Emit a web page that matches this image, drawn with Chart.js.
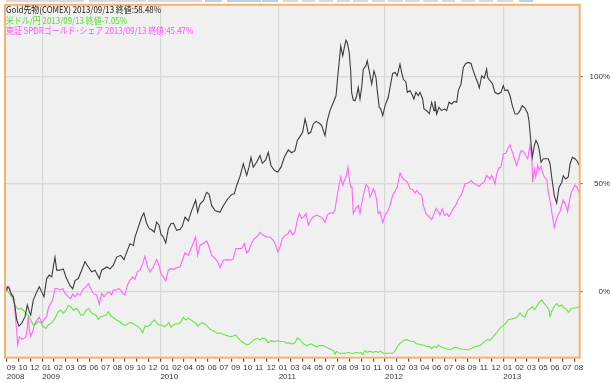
<!DOCTYPE html>
<html>
<head>
<meta charset="utf-8">
<script src="https://cdn.jsdelivr.net/npm/chart.js@4"></script>
<style>
  html, body { margin: 0; padding: 0; background: #fff; }
</style>
</head>
<body>
<canvas id="goldChart" width="610" height="383"></canvas>
<script>
// x = position in month-tick units (tick 0 = 2008/09), y = change in %
const monthLabels = [
    '09', '10', '12',
    '01', '02', '03', '05', '06', '07', '08', '09', '10', '12',
    '01', '02', '04', '05', '06', '07', '09', '10', '11', '12',
    '01', '03', '04', '05', '07', '08', '09', '10', '11',
    '01', '02', '03', '04', '06', '07', '08', '09', '11', '12',
    '01', '02', '03', '05', '06', '07', '08'
];
const yearLabels = ['2008', '2009', '2010', '2011', '2012', '2013'];
const yTicks = [0, 50, 100];

const seriesNames = ['Gold先物(COMEX)', '米ドル/円', '東証 SPDRゴールド･シェア'];
const closeDate = '2013/09/13';
const closeValues = [58.48, -7.05, 45.47];

const gold = [
    [0.0, 0.5], [0.05, 2.2], [0.22, 1.4], [0.42, -1.7], [0.56, -2.5], [0.70, -7.1], [0.85, -13.3], [1.04, -16.1],
    [1.27, -14.8], [1.55, -11.7], [1.74, -6.3], [1.91, -9.4], [2.03, -11.0], [2.25, -4.0], [2.54, -0.2], [2.76, 2.2],
    [2.96, -0.2], [3.15, -2.5], [3.38, 6.0], [3.60, 7.6], [3.81, 6.8], [3.94, 11.4], [4.08, 16.0], [4.23, 9.9],
    [4.51, 9.9], [4.79, 10.5], [5.01, 6.6], [5.35, 2.8], [5.58, 1.2], [5.78, 5.1], [6.05, 6.0], [6.34, 9.9],
    [6.62, 13.8], [6.90, 11.4], [7.19, 9.1], [7.47, 9.9], [7.83, 6.0], [8.03, 9.9], [8.46, 11.4], [8.74, 10.5],
    [9.01, 12.1], [9.30, 16.0], [9.64, 16.8], [9.92, 14.8], [10.15, 18.3], [10.43, 22.2], [10.71, 21.4], [10.85, 25.3],
    [11.13, 29.9], [11.42, 34.6], [11.60, 36.5], [11.84, 31.5], [12.06, 29.2], [12.26, 28.7], [12.48, 27.6], [12.68, 32.3],
    [12.88, 30.8], [13.05, 26.6], [13.24, 25.3], [13.45, 22.6], [13.67, 29.2], [13.89, 31.5], [14.09, 31.8], [14.38, 28.4],
    [14.66, 28.9], [14.85, 30.3], [15.08, 34.6], [15.36, 32.8], [15.64, 37.6], [15.98, 42.5], [16.15, 36.8], [16.35, 40.6],
    [16.63, 42.2], [16.91, 46.1], [17.11, 45.3], [17.34, 39.9], [17.62, 37.6], [18.04, 36.8], [18.32, 39.9], [18.69, 43.0],
    [19.03, 45.1], [19.25, 45.4], [19.45, 49.3], [19.73, 53.5], [20.01, 59.4], [20.30, 54.0], [20.49, 57.8], [20.66, 62.4],
    [20.85, 57.8], [21.14, 60.1], [21.42, 63.2], [21.62, 59.6], [21.90, 61.2], [22.12, 64.7], [22.35, 58.6], [22.63, 56.3],
    [22.92, 55.5], [23.20, 57.8], [23.48, 62.4], [23.81, 65.8], [24.10, 64.5], [24.38, 65.5], [24.58, 70.2], [24.80, 72.0],
    [25.03, 74.0], [25.23, 80.2], [25.37, 77.1], [25.51, 73.3], [25.71, 74.0], [25.93, 77.9], [26.16, 79.1], [26.44, 78.2],
    [26.64, 77.1], [26.78, 74.8], [26.92, 72.5], [27.11, 79.4], [27.34, 84.1], [27.62, 87.9], [27.85, 91.0], [27.99, 99.5],
    [28.13, 107.3], [28.25, 114.2], [28.42, 109.6], [28.55, 113.4], [28.69, 116.8], [28.80, 115.8], [28.97, 111.1], [29.09, 102.6],
    [29.17, 92.6], [29.31, 89.0], [29.45, 88.7], [29.60, 91.0], [29.73, 94.9], [29.88, 89.5], [30.02, 94.9], [30.16, 103.4],
    [30.38, 105.0], [30.49, 107.3], [30.66, 102.6], [30.87, 96.4], [31.06, 102.6], [31.23, 99.5], [31.34, 93.4], [31.51, 85.6],
    [31.63, 84.9], [31.80, 81.8], [32.00, 86.4], [32.27, 90.3], [32.42, 94.9], [32.64, 101.4], [32.84, 101.9], [33.03, 100.3],
    [33.26, 105.7], [33.40, 101.9], [33.54, 98.8], [33.77, 97.3], [33.88, 92.6], [34.11, 93.4], [34.33, 91.0], [34.44, 89.5],
    [34.61, 92.6], [34.81, 91.0], [34.95, 92.6], [35.18, 89.5], [35.29, 84.9], [35.52, 84.1], [35.74, 82.6], [35.94, 88.0],
    [36.14, 84.1], [36.22, 88.5], [36.36, 82.5], [36.56, 85.6], [36.79, 84.1], [37.01, 84.9], [37.21, 84.1], [37.41, 88.0],
    [37.63, 87.2], [37.85, 88.4], [38.06, 88.0], [38.19, 93.4], [38.42, 96.4], [38.62, 104.2], [38.82, 106.0], [39.04, 106.5],
    [39.27, 106.0], [39.46, 102.6], [39.66, 99.5], [39.83, 97.2], [39.97, 94.6], [40.17, 100.3], [40.39, 99.2], [40.59, 103.4],
    [40.68, 99.5], [40.87, 98.0], [41.07, 96.7], [41.29, 92.6], [41.57, 91.8], [41.80, 92.6], [42.00, 95.7], [42.14, 93.4],
    [42.37, 93.7], [42.57, 91.0], [42.76, 86.4], [42.99, 82.5], [43.21, 82.5], [43.41, 84.1], [43.60, 86.4], [43.83, 85.3],
    [44.06, 82.8], [44.17, 79.4], [44.31, 70.9], [44.45, 62.4], [44.62, 67.8], [44.76, 70.2], [44.91, 68.6], [45.02, 66.3],
    [45.19, 60.1], [45.38, 61.7], [45.58, 61.7], [45.80, 61.7], [45.95, 59.4], [46.09, 53.2], [46.31, 44.7], [46.51, 41.1],
    [46.71, 48.4], [46.94, 50.7], [47.07, 53.8], [47.27, 52.3], [47.49, 53.2], [47.65, 59.4], [47.84, 62.4], [48.07, 61.7],
    [48.30, 60.1], [48.45, 58.5]
];

const usdjpy = [
    [0.0, 0.6], [0.22, -0.9], [0.42, -2.5], [0.62, -5.3], [0.79, -7.1], [0.98, -8.3], [1.18, -7.9], [1.40, -8.7],
    [1.63, -10.2], [1.83, -11.4], [2.03, -13.3], [2.25, -15.6], [2.48, -15.1], [2.67, -14.0], [2.88, -14.5], [3.10, -16.4],
    [3.32, -17.2], [3.52, -15.6], [3.81, -14.5], [4.08, -12.5], [4.36, -9.4], [4.57, -8.7], [4.79, -10.2], [5.01, -8.7],
    [5.21, -6.5], [5.41, -7.1], [5.63, -8.7], [5.86, -7.9], [6.05, -8.7], [6.26, -11.0], [6.48, -11.0], [6.71, -8.7],
    [6.90, -7.9], [7.10, -9.4], [7.32, -10.5], [7.55, -11.0], [7.75, -13.0], [7.95, -11.7], [8.17, -11.4], [8.40, -11.0],
    [8.59, -9.4], [8.80, -11.4], [9.01, -12.1], [9.30, -13.3], [9.58, -14.1], [9.86, -15.6], [10.09, -15.6], [10.28, -14.8],
    [10.57, -14.5], [10.85, -15.6], [11.04, -16.1], [11.27, -17.2], [11.50, -19.2], [11.70, -16.0], [11.92, -16.4], [12.12, -15.6],
    [12.31, -14.1], [12.48, -13.3], [12.68, -14.5], [12.88, -15.6], [13.11, -15.6], [13.33, -16.4], [13.53, -15.6], [13.73, -14.5],
    [13.89, -16.7], [14.09, -15.6], [14.29, -15.1], [14.51, -15.1], [14.74, -14.1], [14.93, -12.1], [15.14, -13.3], [15.36, -12.5],
    [15.59, -13.3], [15.78, -14.1], [15.98, -14.5], [16.15, -16.1], [16.35, -15.1], [16.54, -14.5], [16.77, -15.1], [17.00, -16.4],
    [17.19, -17.6], [17.39, -18.2], [17.62, -18.7], [17.84, -19.5], [18.04, -19.2], [18.23, -19.8], [18.46, -20.2], [18.74, -20.7],
    [18.97, -21.0], [19.16, -20.7], [19.37, -20.2], [19.59, -21.8], [19.87, -23.3], [20.09, -24.1], [20.30, -24.9], [20.49, -24.6],
    [20.72, -23.3], [20.94, -22.3], [21.23, -21.8], [21.42, -22.6], [21.62, -21.8], [21.84, -21.8], [22.12, -23.8], [22.35, -22.9],
    [22.63, -23.3], [22.92, -22.9], [23.20, -23.3], [23.48, -23.3], [23.68, -24.1], [23.87, -23.8], [24.10, -24.4], [24.38, -23.9],
    [24.58, -21.6], [24.74, -22.1], [24.95, -23.6], [25.14, -24.4], [25.37, -25.2], [25.59, -24.7], [25.79, -24.4], [25.99, -25.2],
    [26.22, -25.7], [26.50, -25.2], [26.78, -25.2], [27.06, -26.0], [27.34, -26.8], [27.62, -27.5], [27.76, -29.1], [27.91, -27.8],
    [28.13, -28.7], [28.42, -28.7], [28.69, -28.7], [28.89, -28.3], [29.09, -28.7], [29.31, -28.7], [29.54, -28.3], [29.73, -28.7],
    [29.94, -28.3], [30.11, -29.4], [30.30, -27.5], [30.49, -28.3], [30.72, -27.8], [31.00, -28.3], [31.23, -27.8], [31.42, -28.3],
    [31.63, -27.8], [31.85, -28.7], [32.14, -28.7], [32.42, -28.7], [32.64, -28.7], [32.84, -27.8], [33.03, -25.7], [33.26, -24.1],
    [33.54, -22.9], [33.83, -22.3], [34.05, -22.9], [34.25, -23.3], [34.44, -23.3], [34.67, -24.4], [34.89, -24.4], [35.10, -24.9],
    [35.29, -24.9], [35.52, -25.7], [35.74, -25.5], [35.94, -26.6], [36.14, -25.5], [36.36, -26.1], [36.50, -24.9], [36.79, -26.0],
    [37.07, -26.4], [37.35, -26.9], [37.63, -26.9], [37.91, -25.9], [38.19, -26.4], [38.48, -26.9], [38.76, -26.9], [39.04, -27.2],
    [39.32, -26.4], [39.60, -25.7], [39.88, -25.3], [40.11, -24.9], [40.39, -23.3], [40.68, -22.4], [40.87, -22.7], [41.07, -21.6],
    [41.29, -20.1], [41.52, -18.5], [41.72, -17.0], [42.00, -15.9], [42.20, -14.7], [42.42, -13.1], [42.71, -12.8], [42.99, -12.4],
    [43.21, -11.6], [43.41, -10.0], [43.60, -11.3], [43.83, -11.9], [44.06, -8.8], [44.25, -8.2], [44.45, -7.0], [44.62, -8.5],
    [44.82, -7.0], [45.02, -5.1], [45.24, -3.9], [45.47, -5.7], [45.67, -7.0], [45.86, -8.5], [45.95, -11.6], [46.09, -9.3],
    [46.31, -7.0], [46.51, -5.7], [46.71, -7.0], [46.94, -6.3], [47.16, -7.7], [47.36, -8.5], [47.49, -9.7], [47.72, -8.2],
    [47.91, -7.7], [48.12, -7.7], [48.45, -7.05]
];

const spdr = [
    [0.0, 0.5], [0.05, 1.4], [0.19, 2.5], [0.34, -0.9], [0.51, -1.7], [0.62, -4.0], [0.76, -13.3], [0.85, -18.7],
    [0.93, -24.9], [1.07, -21.0], [1.27, -22.3], [1.46, -21.8], [1.63, -21.0], [1.74, -17.2], [1.83, -11.0], [1.91, -17.9],
    [2.03, -21.0], [2.20, -18.5], [2.39, -14.7], [2.59, -13.1], [2.76, -11.9], [2.96, -14.7], [3.15, -13.1], [3.38, -11.6],
    [3.52, -7.7], [3.72, -5.6], [3.89, -4.0], [4.08, 1.4], [4.28, 1.4], [4.51, 0.6], [4.74, 1.4], [4.93, -0.9],
    [5.21, -2.5], [5.41, -3.3], [5.58, -1.2], [5.78, -2.5], [5.97, -0.9], [6.20, -1.7], [6.43, 0.9], [6.71, 2.2],
    [6.90, 3.7], [7.10, 1.4], [7.32, -0.9], [7.61, -1.7], [7.83, -5.9], [8.03, -0.9], [8.23, -2.5], [8.46, -0.9],
    [8.68, -0.2], [8.88, -1.7], [9.01, 0.6], [9.24, 0.6], [9.44, 1.4], [9.64, 0.6], [9.81, -0.9], [10.00, -1.7],
    [10.20, 2.9], [10.43, 5.3], [10.66, 6.8], [10.85, 5.6], [11.04, 9.1], [11.27, 9.9], [11.50, 13.0], [11.69, 16.4],
    [11.92, 11.4], [12.12, 9.1], [12.40, 11.4], [12.68, 14.8], [12.88, 12.1], [13.05, 8.3], [13.24, 6.8], [13.45, 4.9],
    [13.67, 9.9], [13.89, 10.7], [14.09, 10.2], [14.38, 11.1], [14.66, 11.4], [14.85, 14.5], [15.08, 17.9], [15.36, 16.8],
    [15.64, 20.7], [15.98, 25.3], [16.15, 16.8], [16.35, 21.5], [16.63, 22.3], [16.91, 23.5], [17.11, 20.7], [17.34, 16.8],
    [17.62, 15.3], [17.84, 13.8], [18.04, 11.0], [18.32, 14.5], [18.69, 14.8], [18.97, 14.5], [19.16, 15.3], [19.37, 19.9],
    [19.59, 19.9], [19.87, 19.9], [20.09, 22.3], [20.30, 17.9], [20.49, 19.2], [20.72, 22.6], [20.94, 24.6], [21.23, 25.7],
    [21.42, 27.5], [21.70, 26.1], [21.99, 25.3], [22.27, 25.3], [22.55, 23.8], [22.75, 21.5], [22.92, 18.4], [23.11, 20.7],
    [23.31, 24.6], [23.53, 26.1], [23.76, 26.6], [23.95, 28.5], [24.19, 26.3], [24.38, 27.8], [24.58, 33.2], [24.74, 36.3],
    [24.95, 34.0], [25.14, 34.8], [25.31, 36.3], [25.51, 30.9], [25.71, 33.2], [25.93, 34.8], [26.22, 35.5], [26.50, 34.8],
    [26.78, 33.5], [26.92, 32.0], [27.11, 35.5], [27.34, 36.6], [27.62, 36.3], [27.76, 37.9], [27.91, 43.3], [28.13, 50.2],
    [28.25, 53.2], [28.42, 49.3], [28.55, 51.6], [28.69, 53.2], [28.86, 57.8], [28.97, 52.4], [29.09, 48.5], [29.20, 48.5],
    [29.31, 36.2], [29.45, 37.6], [29.60, 39.1], [29.73, 40.0], [29.88, 36.2], [30.02, 40.8], [30.16, 44.7], [30.39, 49.8],
    [30.58, 48.5], [30.72, 43.9], [30.87, 45.4], [31.00, 47.8], [31.15, 46.2], [31.29, 42.3], [31.42, 36.2], [31.57, 37.1],
    [31.80, 32.0], [32.00, 35.5], [32.27, 37.9], [32.47, 41.0], [32.64, 44.8], [32.84, 46.4], [33.03, 48.7], [33.26, 55.0],
    [33.49, 52.5], [33.68, 51.7], [33.88, 50.9], [34.11, 47.8], [34.33, 47.3], [34.53, 45.8], [34.67, 47.0], [34.89, 45.4],
    [35.10, 44.7], [35.23, 40.0], [35.46, 36.2], [35.74, 34.6], [35.94, 33.4], [36.14, 36.2], [36.31, 38.6], [36.50, 37.1],
    [36.64, 35.4], [36.84, 38.5], [37.01, 35.4], [37.21, 36.2], [37.41, 34.9], [37.57, 36.5], [37.77, 38.5], [37.97, 40.0],
    [38.14, 42.3], [38.33, 43.9], [38.53, 46.2], [38.76, 50.1], [39.04, 50.4], [39.27, 51.6], [39.46, 50.4], [39.66, 49.8],
    [39.94, 48.8], [40.17, 50.1], [40.39, 50.9], [40.59, 54.0], [40.73, 53.2], [40.87, 52.0], [41.01, 54.0], [41.15, 52.4],
    [41.29, 49.8], [41.44, 54.7], [41.63, 57.5], [41.80, 57.8], [42.00, 64.0], [42.20, 64.3], [42.37, 66.3], [42.57, 68.3],
    [42.76, 64.8], [42.94, 61.7], [43.13, 58.6], [43.33, 62.4], [43.49, 65.5], [43.69, 65.2], [43.89, 63.2], [44.06, 61.7],
    [44.25, 67.8], [44.40, 62.4], [44.48, 50.8], [44.62, 57.0], [44.74, 53.2], [44.91, 58.6], [45.02, 56.3], [45.19, 58.2],
    [45.30, 55.5], [45.47, 53.2], [45.67, 52.0], [45.80, 46.2], [45.97, 41.6], [46.14, 35.5], [46.31, 29.8], [46.43, 32.1],
    [46.60, 35.5], [46.79, 37.1], [46.94, 40.2], [47.07, 42.5], [47.27, 40.2], [47.44, 37.1], [47.55, 41.0], [47.72, 45.6],
    [47.91, 47.9], [48.06, 49.5], [48.20, 48.7], [48.45, 45.5]
];

const colors = ['#3c3c3c', '#66e646', '#ff66ff'];
const textColors = ['#222222', '#55dd33', '#ff55ff'];

// year label goes under the first tick and under every "01"
const yearAt = {};
let y = 0;
monthLabels.forEach((m, i) => {
    if (i === 0 || m === '01') yearAt[i] = yearLabels[y++];
});

const toPoints = arr => arr.map(([x, v]) => ({ x: x, y: v }));

const frame = {
    id: 'frame',
    beforeDraw(chart) {
        const { ctx, chartArea: a } = chart;
        ctx.save();
        // stubs of the toolbar buttons above the chart
        ctx.fillStyle = '#d9d9d9';
        [[6, 78], [89, 57], [148, 54], [283, 15], [302, 13], [319, 14], [337, 13], [353, 15],
         [372, 13], [388, 15], [405, 15], [423, 15], [442, 13], [461, 14], [479, 14], [497, 16]]
            .forEach(([x, w]) => ctx.fillRect(x, 0, w, 2));
        ctx.fillStyle = '#bcd0e4';
        [[205, 17], [227, 17], [244, 17], [262, 16], [519, 14]]
            .forEach(([x, w]) => ctx.fillRect(x, 0, w, 2));
        ctx.fillStyle = '#f0f0f0';
        ctx.fillRect(a.left, a.top, a.right - a.left, a.bottom - a.top);
        ctx.restore();
    },
    afterDraw(chart) {
        const { ctx, chartArea: a } = chart;
        ctx.save();
        ctx.strokeStyle = '#f7b36e';
        ctx.lineWidth = 2;
        ctx.strokeRect(a.left, a.top, a.right - a.left, a.bottom - a.top);

        // legend lines: the original font is narrower, so squeeze a little
        ctx.font = '9px "Noto Sans CJK JP"';
        ctx.textBaseline = 'middle';
        seriesNames.forEach((name, i) => {
            const v = closeValues[i];
            const text = `${name} ${closeDate} 終値${v < 0 ? '' : ':'}${v.toFixed(2)}%`;
            ctx.fillStyle = textColors[i];
            ctx.fillText(text, a.left + 1, a.top + 4.5 + i * 10.8, ctx.measureText(text).width * 0.88);
        });
        ctx.restore();
    }
};

new Chart(document.getElementById('goldChart'), {
    type: 'line',
    data: {
        datasets: [gold, usdjpy, spdr].map((s, i) => ({
            label: seriesNames[i],
            data: toPoints(s),
            borderColor: colors[i],
            borderWidth: 1.1,
            pointRadius: 0,
            tension: 0
        }))
    },
    options: {
        responsive: false,
        animation: false,
        devicePixelRatio: 1,
        layout: { padding: { left: 5, top: 4, right: 0, bottom: 0 } },
        plugins: { legend: { display: false }, tooltip: { enabled: false } },
        scales: {
            x: {
                type: 'linear',
                min: -0.144,
                max: 48.46,
                afterBuildTicks: s => { s.ticks = monthLabels.map((m, i) => ({ value: i })); },
                afterFit: s => { s.height = 25.3; },
                border: { display: false },
                grid: {
                    color: c => monthLabels[c.index] === '01' ? '#d8d8d8' : 'rgba(0,0,0,0)',
                    tickColor: '#555',
                    tickLength: 4,
                    lineWidth: 1.2
                },
                ticks: {
                    autoSkip: false,
                    maxRotation: 0,
                    align: 'start',
                    padding: 1,
                    color: '#333',
                    font: { family: 'Liberation Sans', size: 8, lineHeight: 1.15 },
                    callback: (v, i) => yearAt[i] ? [monthLabels[i], yearAt[i]] : monthLabels[i]
                }
            },
            y: {
                position: 'right',
                min: -30.8,
                max: 133.3,
                afterBuildTicks: s => { s.ticks = yTicks.map(v => ({ value: v })); },
                afterFit: s => { s.width = 30.3; },
                border: { display: false },
                grid: { color: '#d8d8d8', tickColor: '#777', tickLength: 3, lineWidth: 1.2 },
                ticks: {
                    crossAlign: 'far',
                    padding: 0,
                    color: '#333',
                    font: { family: 'Liberation Sans', size: 8 },
                    callback: v => v + '%'
                }
            }
        }
    },
    plugins: [frame]
});
</script>
</body>
</html>
